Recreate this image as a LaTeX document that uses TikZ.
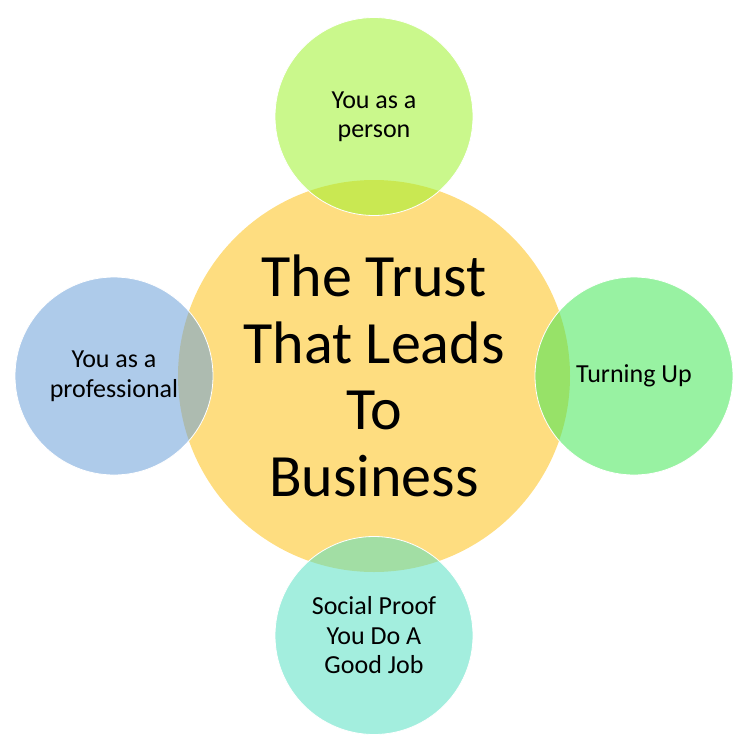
\documentclass[tikz,border=0pt]{standalone}
\usepackage{fontspec}
\setmainfont{Carlito}

\definecolor{hubfill}{RGB}{254,221,128}
\definecolor{personfill}{RGB}{159,242,46}
\definecolor{proffill}{RGB}{108,160,217}
\definecolor{turnfill}{RGB}{68,231,86}
\definecolor{prooffill}{RGB}{88,224,195}

\begin{document}
\begin{tikzpicture}[x=1pt, y=-1pt,
hub/.style={circle, minimum size=392pt, inner sep=0pt, fill=hubfill,
  align=center, font=\fontsize{60}{66.7}\selectfont},
petal/.style={circle, minimum size=198pt, inner sep=0pt, fill opacity=0.55,
  text opacity=1, draw=white, line width=0.8pt, align=center,
  font=\fontsize{26}{29.5}\selectfont}]
\useasboundingbox (0,0) rectangle (748,753);
\node [hub] (trust) at (374,376) {The Trust\\That Leads\\To\\Business};
\node [petal, fill=personfill] (person) at (374,116.5) {You as a\\person};
\node [petal, fill=proffill] (professional) at (114,376) {You as a\\professional};
\node [petal, fill=turnfill] (turning) at (634,376) {Turning Up};
\node [petal, fill=prooffill] (proof) at (374,635.5) {Social Proof\\You Do A\\Good Job};
\end{tikzpicture}
\end{document}
